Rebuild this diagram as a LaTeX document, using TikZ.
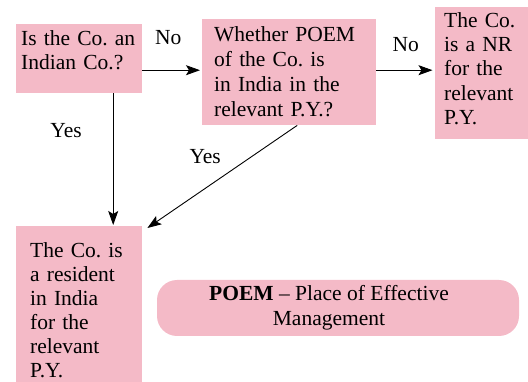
\documentclass[tikz,border=0pt]{standalone}
\usepackage{fontspec}
\setmainfont{Liberation Serif}
\usetikzlibrary{arrows.meta}
\definecolor{boxpink}{RGB}{244,186,199}
\frenchspacing
\begin{document}
\begin{tikzpicture}[x=1pt, y=-1pt,
  box/.style={rectangle, fill=boxpink, anchor=north west, align=left, inner ysep=0pt, font=\fontsize{21.5}{24}\selectfont},
  note/.style={rectangle, fill=boxpink, rounded corners=20pt, align=center, font=\fontsize{21.5}{25}\selectfont},
  arrow/.style={-{Stealth[length=14pt, width=10pt, inset=3pt]}, line width=0.9pt},
  lbl/.style={inner sep=0pt, font=\fontsize{21.5}{24}\selectfont}
]
\useasboundingbox (0,0) rectangle (528,382);

% Boxes
\node[box, text width=116pt, inner xsep=5pt, text height=21pt, text depth=48pt] (indian) at (16,24) {Is the Co. an\\Indian Co.?};
\node[box, text width=150pt, inner xsep=12pt, text height=22pt, text depth=84pt, font=\fontsize{21.5}{25}\selectfont] (poem) at (202,19) {Whether POEM\\of the Co. is\\in India in the\\relevant P.Y.?};
\node[box, text width=75pt, inner xsep=9pt, text height=20pt, text depth=112pt, font=\fontsize{21.5}{24.3}\selectfont] (nr) at (435,7) {The Co.\\is a NR\\for the\\relevant\\P.Y.};
\node[box, text width=98pt, inner xsep=14pt, text height=31pt, text depth=125pt] (res) at (16,226) {The Co. is\\a resident\\in India\\for the\\relevant\\P.Y.};

% Arrows
\draw[arrow, shorten >=2pt] ([yshift=-11.5pt]indian.east) -- ([yshift=-11.5pt]indian.east -| poem.west)
  node[lbl, midway, above=25pt, xshift=-4pt] {No};
\draw[arrow, shorten >=2.5pt] ([yshift=2pt]poem.east) -- ([yshift=2pt]poem.east -| nr.west)
  node[lbl, midway, above=18pt] {No};
\draw[arrow, shorten >=1pt] ([xshift=34pt]indian.south) -- ([xshift=34pt]indian.south |- res.north)
  node[lbl, pos=0.28, left=31pt] {Yes};
\draw[arrow] ([xshift=8pt]poem.south) -- ([xshift=5pt, yshift=-2pt]res.north east)
  node[lbl, pos=0.3, left=31pt] {Yes};

% Note (text sits a little left of centre)
\node[note, minimum width=362pt, minimum height=56pt] (abbr) at (338,308) {\textbf{POEM} -- Place of Effective\hspace*{18pt}\\Management\hspace*{18pt}};

\end{tikzpicture}
\end{document}
